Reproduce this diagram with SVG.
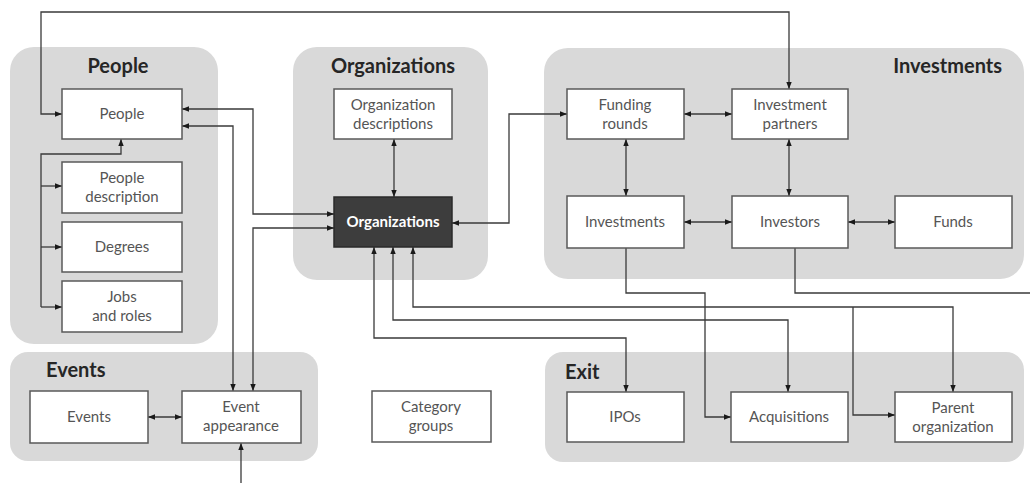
<svg xmlns="http://www.w3.org/2000/svg" width="1030" height="483" viewBox="0 0 1030 483">
  <style>
    .grp { fill: #d9d9d9; }
    .title { font-family: Lato, "Liberation Sans", sans-serif; font-weight: bold; font-size: 20px; fill: #262626; }
    .box { fill: #ffffff; stroke: #595959; stroke-width: 1.5; }
    .box-dark { fill: #3d3d3d; stroke: #2a2a2a; stroke-width: 1.5; }
    .lbl { font-family: Lato, "Liberation Sans", sans-serif; font-size: 15px; fill: #555555; text-anchor: middle; }
    .lbl-dark { font-family: Lato, "Liberation Sans", sans-serif; font-size: 15px; font-weight: bold; fill: #ffffff; text-anchor: middle; }
    .wire { fill: none; stroke: #3a3a3a; stroke-width: 1.3; }
    .one { marker-end: url(#arrow); }
    .two { marker-start: url(#arrow); marker-end: url(#arrow); }
  </style>
  <defs>
    <marker id="arrow" viewBox="0 0 7 7" refX="7" refY="3.5" markerWidth="7" markerHeight="7" markerUnits="userSpaceOnUse" orient="auto-start-reverse">
      <path d="M0,0.8 L7,3.5 L0,6.2 z" fill="#1a1a1a"/>
    </marker>
  </defs>

  <!-- section backgrounds -->
  <g id="section-people">
    <rect class="grp" x="10" y="47" width="208" height="297" rx="24"/>
    <text class="title" x="118" y="73" text-anchor="middle">People</text>
  </g>
  <g id="section-events">
    <rect class="grp" x="10" y="352" width="308" height="109" rx="18"/>
    <text class="title" x="46" y="377">Events</text>
  </g>
  <g id="section-organizations">
    <rect class="grp" x="293" y="47" width="195" height="233" rx="24"/>
    <text class="title" x="393" y="73" text-anchor="middle">Organizations</text>
  </g>
  <g id="section-investments">
    <rect class="grp" x="544" y="48" width="480" height="231" rx="24"/>
    <text class="title" x="1002" y="73" text-anchor="end">Investments</text>
  </g>
  <g id="section-exit">
    <rect class="grp" x="545" y="352" width="479" height="110" rx="18"/>
    <text class="title" x="565" y="379">Exit</text>
  </g>

  <!-- connectors -->
  <g id="connectors">
    <!-- People <-> Investment partners across the top -->
    <path class="wire two" d="M62,114 H41 V12 H789 V89"/>
    <!-- People -> detail tables -->
    <path class="wire one" d="M41,307 V154 H121 V139"/>
    <path class="wire one" d="M41,186 H62"/>
    <path class="wire one" d="M41,247 H62"/>
    <path class="wire one" d="M41,307 H62"/>
    <!-- People <-> Organizations / Event appearance -->
    <path class="wire two" d="M182,109 H253 V214 H334"/>
    <path class="wire two" d="M182,126 H233 V391"/>
    <path class="wire two" d="M253,391 V228 H334"/>
    <!-- Events -->
    <path class="wire two" d="M148,417 H182"/>
    <path class="wire one" d="M241,483 V443"/>
    <!-- Organizations -->
    <path class="wire two" d="M394,139 V197"/>
    <path class="wire two" d="M452,223 H509 V114 H567"/>
    <path class="wire two" d="M374,247 V338 H626 V392"/>
    <path class="wire two" d="M393,247 V320 H788 V392"/>
    <path class="wire two" d="M413,247 V307 H953 V392"/>
    <path class="wire one" d="M853,307 V415 H895"/>
    <!-- Investments -->
    <path class="wire two" d="M684,114 H732"/>
    <path class="wire two" d="M626,139 V196"/>
    <path class="wire two" d="M789,139 V196"/>
    <path class="wire two" d="M684,222 H732"/>
    <path class="wire two" d="M848,222 H895"/>
    <path class="wire one" d="M626,248 V293 H705 V417 H731"/>
    <path class="wire" d="M795,248 V293 H1030"/>
  </g>

  <!-- nodes -->
  <g id="node-people">
    <rect class="box" x="62" y="89" width="120" height="50"/>
    <text class="lbl" x="122" y="119">People</text>
  </g>
  <g id="node-people-description">
    <rect class="box" x="62" y="162" width="120" height="51"/>
    <text class="lbl" x="122" y="183">People</text>
    <text class="lbl" x="122" y="202">description</text>
  </g>
  <g id="node-degrees">
    <rect class="box" x="62" y="222" width="120" height="50"/>
    <text class="lbl" x="122" y="252">Degrees</text>
  </g>
  <g id="node-jobs">
    <rect class="box" x="62" y="281" width="120" height="51"/>
    <text class="lbl" x="122" y="302">Jobs</text>
    <text class="lbl" x="122" y="321">and roles</text>
  </g>
  <g id="node-events">
    <rect class="box" x="30" y="391" width="118" height="52"/>
    <text class="lbl" x="89" y="422">Events</text>
  </g>
  <g id="node-event-appearance">
    <rect class="box" x="182" y="391" width="119" height="52"/>
    <text class="lbl" x="241" y="412">Event</text>
    <text class="lbl" x="241" y="431">appearance</text>
  </g>
  <g id="node-organization-descriptions">
    <rect class="box" x="334" y="89" width="118" height="50"/>
    <text class="lbl" x="393" y="110">Organization</text>
    <text class="lbl" x="393" y="129">descriptions</text>
  </g>
  <g id="node-organizations">
    <rect class="box-dark" x="334" y="197" width="118" height="50"/>
    <text class="lbl-dark" x="393" y="227">Organizations</text>
  </g>
  <g id="node-category-groups">
    <rect class="box" x="372" y="391" width="119" height="51"/>
    <text class="lbl" x="431" y="412">Category</text>
    <text class="lbl" x="431" y="431">groups</text>
  </g>
  <g id="node-funding-rounds">
    <rect class="box" x="567" y="89" width="117" height="50"/>
    <text class="lbl" x="625" y="110">Funding</text>
    <text class="lbl" x="625" y="129">rounds</text>
  </g>
  <g id="node-investment-partners">
    <rect class="box" x="732" y="89" width="116" height="50"/>
    <text class="lbl" x="790" y="110">Investment</text>
    <text class="lbl" x="790" y="129">partners</text>
  </g>
  <g id="node-investments">
    <rect class="box" x="567" y="196" width="117" height="52"/>
    <text class="lbl" x="625" y="227">Investments</text>
  </g>
  <g id="node-investors">
    <rect class="box" x="732" y="196" width="116" height="52"/>
    <text class="lbl" x="790" y="227">Investors</text>
  </g>
  <g id="node-funds">
    <rect class="box" x="895" y="196" width="117" height="52"/>
    <text class="lbl" x="953" y="227">Funds</text>
  </g>
  <g id="node-ipos">
    <rect class="box" x="567" y="392" width="117" height="50"/>
    <text class="lbl" x="625" y="422">IPOs</text>
  </g>
  <g id="node-acquisitions">
    <rect class="box" x="731" y="392" width="117" height="50"/>
    <text class="lbl" x="789" y="422">Acquisitions</text>
  </g>
  <g id="node-parent-organization">
    <rect class="box" x="895" y="392" width="117" height="50"/>
    <text class="lbl" x="953" y="413">Parent</text>
    <text class="lbl" x="953" y="432">organization</text>
  </g>
</svg>
